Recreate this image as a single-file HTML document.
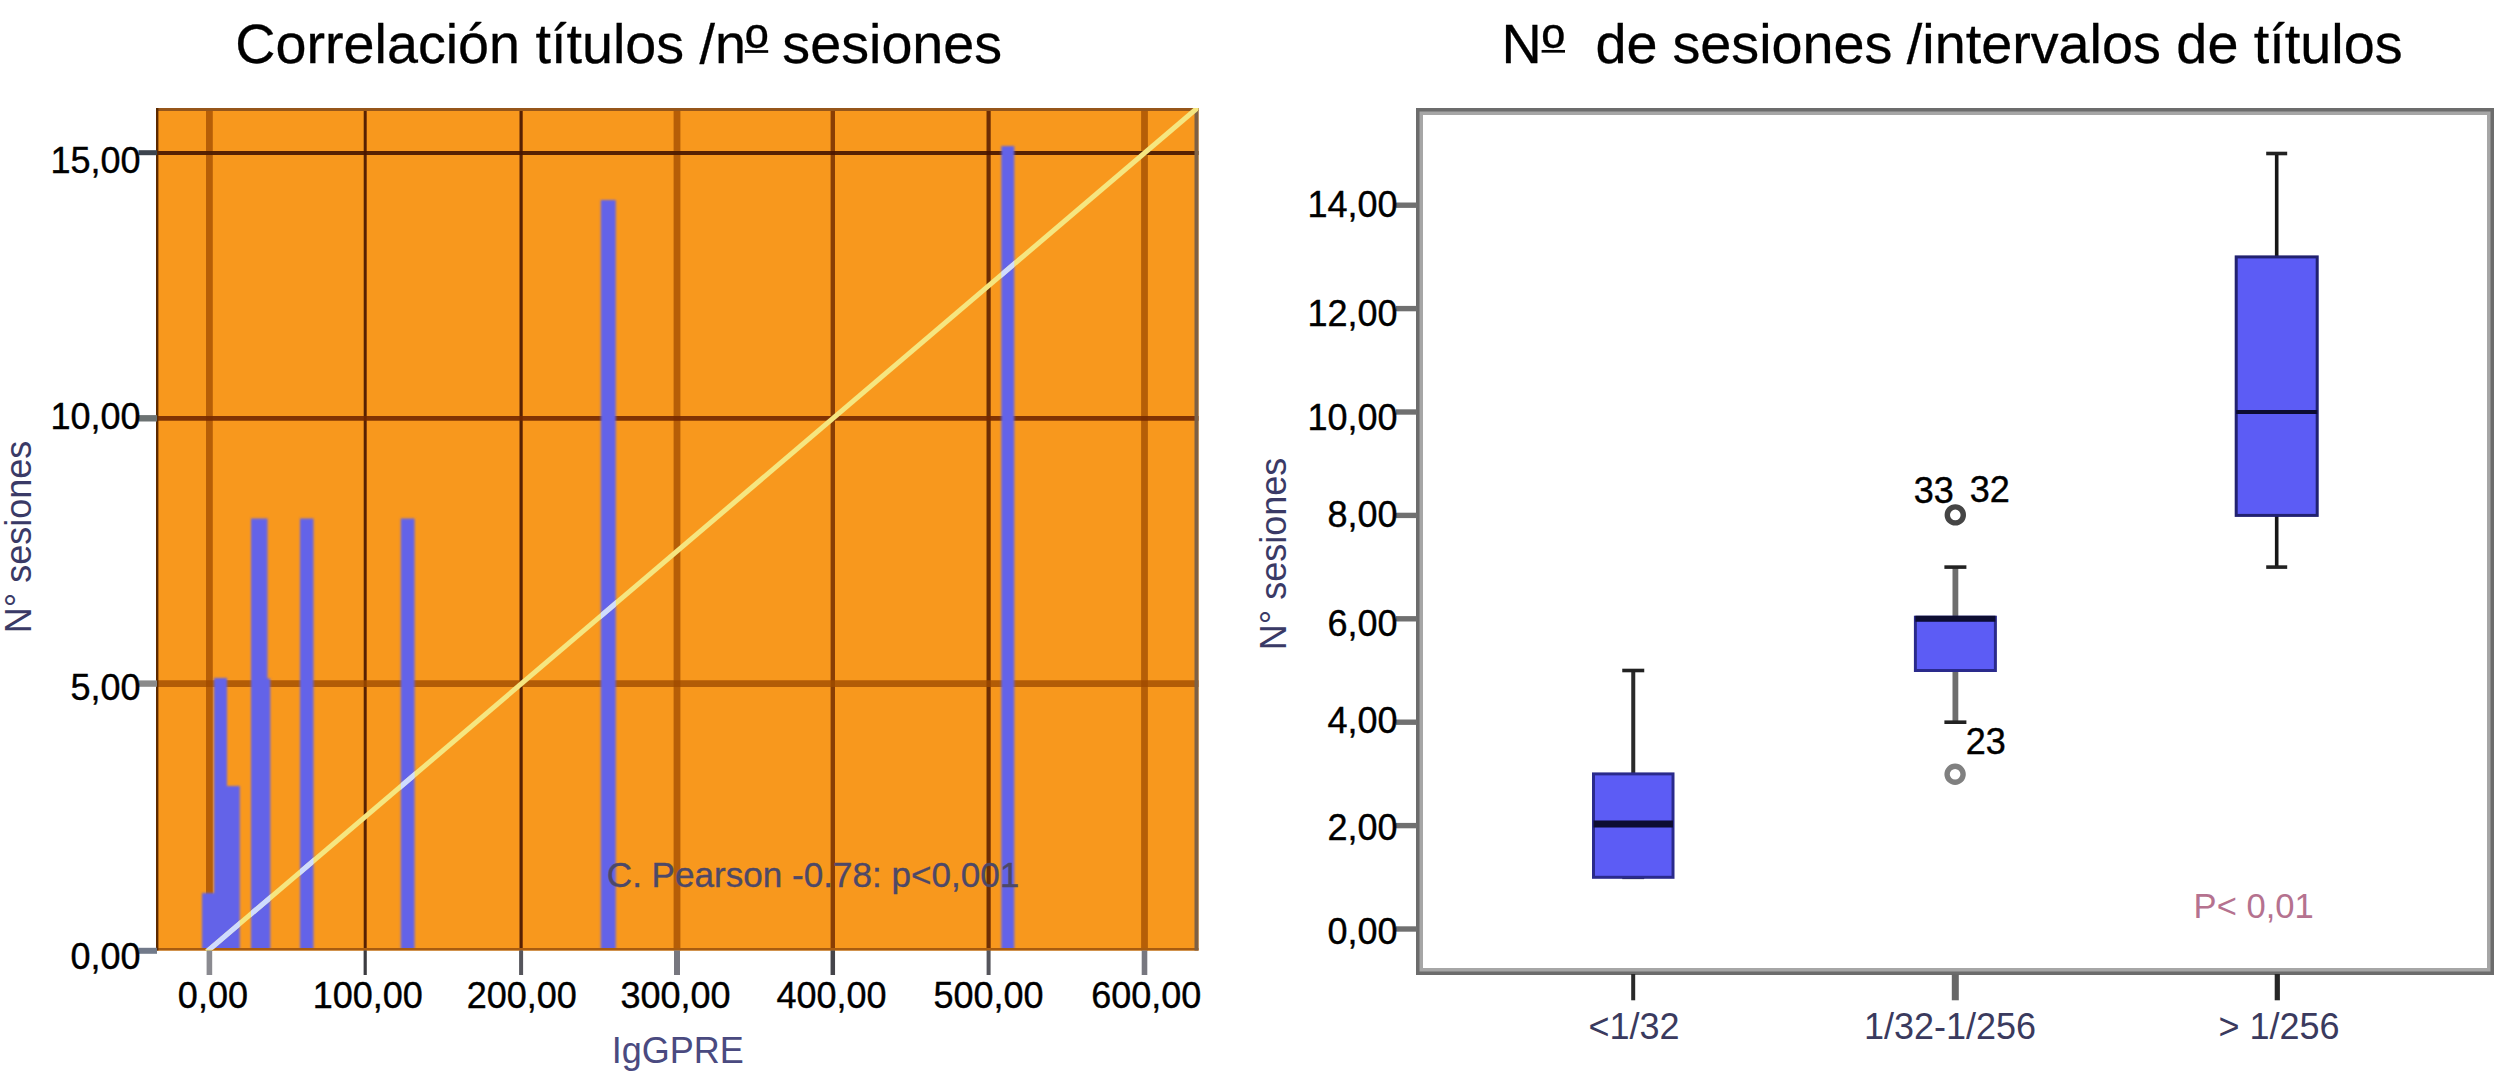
<!DOCTYPE html>
<html lang="es"><head><meta charset="utf-8"><title>Correlación títulos / nº sesiones</title>
<style>
html,body{margin:0;padding:0;background:#fff;}
body{width:2500px;height:1072px;overflow:hidden;font-family:"Liberation Sans",sans-serif;}
svg{display:block;}
</style></head><body>
<svg width="2500" height="1072" viewBox="0 0 2500 1072" font-family="Liberation Sans, sans-serif">
<defs>
<filter id="soft" x="-5%" y="-5%" width="110%" height="110%"><feGaussianBlur stdDeviation="0.9"/></filter>
<filter id="soft2" x="-5%" y="-5%" width="110%" height="110%"><feGaussianBlur stdDeviation="0.6"/></filter>
<clipPath id="barclip">
<rect x="202" y="893" width="13.5" height="56.5"/>
<rect x="214" y="678" width="13.0" height="271.5"/>
<rect x="227" y="786" width="12.8" height="163.5"/>
<rect x="251" y="518.5" width="16.5" height="431.0"/>
<rect x="251.5" y="678.5" width="18.8" height="271.0"/>
<rect x="300" y="518.5" width="13.5" height="431.0"/>
<rect x="400.8" y="518.5" width="13.8" height="431.0"/>
<rect x="600.8" y="200" width="15.0" height="749.5"/>
<rect x="1001.3" y="146" width="13.0" height="803.5"/>
</clipPath>
<clipPath id="plotclip"><rect x="156" y="108" width="1042.5" height="845.5"/></clipPath>
<clipPath id="plotclip2"><rect x="156" y="108" width="1042.5" height="842.0"/></clipPath>
</defs>
<rect width="2500" height="1072" fill="#ffffff"/>
<g id="left-chart">
<rect x="156" y="108" width="1042.5" height="842.5" fill="#f8981d"/>
<g filter="url(#soft2)">
<line x1="209.4" y1="108" x2="209.4" y2="950.5" stroke="#a04c00" stroke-opacity="0.76" stroke-width="6.8"/>
<line x1="365.2" y1="108" x2="365.2" y2="950.5" stroke="#4a1800" stroke-opacity="0.92" stroke-width="3.0"/>
<line x1="521.1" y1="108" x2="521.1" y2="950.5" stroke="#4a1800" stroke-opacity="0.92" stroke-width="3.2"/>
<line x1="677.0" y1="108" x2="677.0" y2="950.5" stroke="#a04c00" stroke-opacity="0.76" stroke-width="6.8"/>
<line x1="832.8" y1="108" x2="832.8" y2="950.5" stroke="#7a3200" stroke-opacity="0.88" stroke-width="4.4"/>
<line x1="988.6" y1="108" x2="988.6" y2="950.5" stroke="#5a2000" stroke-opacity="0.88" stroke-width="4.2"/>
<line x1="1144.5" y1="108" x2="1144.5" y2="950.5" stroke="#a04c00" stroke-opacity="0.76" stroke-width="6.8"/>
<line x1="156" y1="153.0" x2="1198.5" y2="153.0" stroke="#4a1800" stroke-opacity="0.92" stroke-width="4.0"/>
<line x1="156" y1="418.4" x2="1198.5" y2="418.4" stroke="#742800" stroke-opacity="0.9" stroke-width="4.6"/>
<line x1="156" y1="683.7" x2="1198.5" y2="683.7" stroke="#a04c00" stroke-opacity="0.8" stroke-width="6.8"/>
</g>
<g clip-path="url(#plotclip2)"><g fill="#6363e8" filter="url(#soft)">
<rect x="202" y="893" width="13.5" height="61.5"/>
<rect x="214" y="678" width="13.0" height="276.5"/>
<rect x="227" y="786" width="12.8" height="168.5"/>
<rect x="251" y="518.5" width="16.5" height="436.0"/>
<rect x="251.5" y="678.5" width="18.8" height="276.0"/>
<rect x="300" y="518.5" width="13.5" height="436.0"/>
<rect x="400.8" y="518.5" width="13.8" height="436.0"/>
<rect x="600.8" y="200" width="15.0" height="754.5"/>
<rect x="1001.3" y="146" width="13.0" height="808.5"/>
</g></g>
<line x1="156" y1="109.5" x2="1198.5" y2="109.5" stroke="#96561a" stroke-width="3"/>
<line x1="156" y1="949.3" x2="1198.5" y2="949.3" stroke="#a85c10" stroke-width="2.4"/>
<line x1="157.2" y1="108" x2="157.2" y2="950.5" stroke="#5c2a00" stroke-width="2.4"/>
<line x1="1196.5" y1="108" x2="1196.5" y2="950.5" stroke="#7c6046" stroke-width="4"/>
<g clip-path="url(#plotclip)" filter="url(#soft2)">
<line x1="206.9" y1="951.6" x2="1198.5" y2="107.0" stroke="#f5e680" stroke-width="5"/>
<line x1="206.9" y1="951.6" x2="1198.5" y2="107.0" stroke="#cfdcff" stroke-width="5" clip-path="url(#barclip)"/>
</g>
<line x1="209.4" y1="950.5" x2="209.4" y2="975" stroke="#8a8a90" stroke-width="5.6"/>
<line x1="365.2" y1="950.5" x2="365.2" y2="975" stroke="#3c3c40" stroke-width="3.2"/>
<line x1="521.1" y1="950.5" x2="521.1" y2="975" stroke="#55555c" stroke-width="4"/>
<line x1="677.0" y1="950.5" x2="677.0" y2="975" stroke="#77777f" stroke-width="6"/>
<line x1="832.8" y1="950.5" x2="832.8" y2="975" stroke="#44444a" stroke-width="4.5"/>
<line x1="988.6" y1="950.5" x2="988.6" y2="975" stroke="#55555c" stroke-width="4"/>
<line x1="1144.5" y1="950.5" x2="1144.5" y2="975" stroke="#77777f" stroke-width="5.6"/>
<line x1="138.5" y1="152.7" x2="157" y2="152.7" stroke="#3c444e" stroke-width="5"/>
<line x1="138.5" y1="418.3" x2="157" y2="418.3" stroke="#6c7272" stroke-width="6.4"/>
<line x1="138.5" y1="683.6" x2="157" y2="683.6" stroke="#8a8a8a" stroke-width="6.4"/>
<line x1="138.5" y1="950.8" x2="157" y2="950.8" stroke="#727a8a" stroke-width="6"/>
<g font-size="36" fill="#000" stroke="#000" stroke-width="0.4">
<text x="212.9" y="1007.9" text-anchor="middle">0,00</text>
<text x="367.8" y="1007.9" text-anchor="middle">100,00</text>
<text x="521.8" y="1007.9" text-anchor="middle">200,00</text>
<text x="675.6" y="1007.9" text-anchor="middle">300,00</text>
<text x="831.6" y="1007.9" text-anchor="middle">400,00</text>
<text x="988.5" y="1007.9" text-anchor="middle">500,00</text>
<text x="1146.3" y="1007.9" text-anchor="middle">600,00</text>
<text x="140.5" y="969.3" text-anchor="end">0,00</text>
<text x="140.5" y="700.4" text-anchor="end">5,00</text>
<text x="140.5" y="429.4" text-anchor="end">10,00</text>
<text x="140.5" y="172.5" text-anchor="end">15,00</text>
</g>
<text x="677.8" y="1063.3" font-size="36" fill="#4a4a80" text-anchor="middle">IgGPRE</text>
<text transform="translate(31,537) rotate(-90)" font-size="36" fill="#3a3a66" text-anchor="middle">N° sesiones</text>
<text x="606.8" y="886.6" font-size="35.1" fill="#4d4868" stroke="#4d4868" stroke-width="0.35">C. Pearson -0.78: p&lt;0,001</text>
<text x="235.3" y="63" font-size="55.7" fill="#000" stroke="#000" stroke-width="0.3">Correlación títulos /n<tspan font-size="60.4" dy="4.1" dx="-0.2">º</tspan><tspan dy="-4.1" dx="-1"> sesiones</tspan></text>
<line x1="744.9" y1="51.5" x2="768.2" y2="51.5" stroke="#000" stroke-width="2.7"/>
</g>
<g id="right-chart">
<rect x="1419.5" y="111.5" width="1071" height="860" fill="#fff" stroke="#a6a6a6" stroke-width="7"/>
<rect x="1417.75" y="109.75" width="1074.5" height="863.5" fill="none" stroke="#6c6c6c" stroke-width="3.5"/>
<g stroke="#707070" stroke-width="5.4">
<line x1="1396" y1="929.0" x2="1417" y2="929.0"/>
<line x1="1396" y1="825.6" x2="1417" y2="825.6"/>
<line x1="1396" y1="722.2" x2="1417" y2="722.2"/>
<line x1="1396" y1="618.8" x2="1417" y2="618.8"/>
<line x1="1396" y1="515.4" x2="1417" y2="515.4"/>
<line x1="1396" y1="412.0" x2="1417" y2="412.0"/>
<line x1="1396" y1="308.6" x2="1417" y2="308.6"/>
<line x1="1396" y1="205.2" x2="1417" y2="205.2"/>
</g>
<line x1="1633.2" y1="974" x2="1633.2" y2="1000.3" stroke="#2a2a2a" stroke-width="4"/>
<line x1="1955.3" y1="974" x2="1955.3" y2="1000.3" stroke="#686868" stroke-width="7"/>
<line x1="2277.3" y1="974" x2="2277.3" y2="1000.3" stroke="#262626" stroke-width="5.2"/>
<g font-size="36" fill="#000" stroke="#000" stroke-width="0.4">
<text x="1397.5" y="944.4" text-anchor="end">0,00</text>
<text x="1397.5" y="840.0" text-anchor="end">2,00</text>
<text x="1397.5" y="733.2" text-anchor="end">4,00</text>
<text x="1397.5" y="635.8" text-anchor="end">6,00</text>
<text x="1397.5" y="527.4" text-anchor="end">8,00</text>
<text x="1397.5" y="429.8" text-anchor="end">10,00</text>
<text x="1397.5" y="325.9" text-anchor="end">12,00</text>
<text x="1397.5" y="217.4" text-anchor="end">14,00</text>
</g>
<g filter="url(#soft2)">
<line x1="1633.25" y1="670.5" x2="1633.25" y2="877.3" stroke="#2a2a2a" stroke-width="4"/>
<line x1="1622.25" y1="670.5" x2="1644.25" y2="670.5" stroke="#222" stroke-width="3.6"/>
<line x1="1622.25" y1="877.3" x2="1644.25" y2="877.3" stroke="#222" stroke-width="3.6"/>
<rect x="1593.5" y="773.9" width="79.5" height="103.4" fill="#5c5cf5" stroke="#2c2c8c" stroke-width="3"/>
<line x1="1593.5" y1="824.0" x2="1673.0" y2="824.0" stroke="#0a0a30" stroke-width="7"/>
<line x1="1955.4" y1="567.1" x2="1955.4" y2="722.2" stroke="#6e6e6e" stroke-width="5.8"/>
<line x1="1944.4" y1="567.1" x2="1966.4" y2="567.1" stroke="#222" stroke-width="3.6"/>
<line x1="1944.4" y1="722.2" x2="1966.4" y2="722.2" stroke="#222" stroke-width="3.6"/>
<rect x="1915.4" y="617.2" width="80.0" height="53.3" fill="#5c5cf5" stroke="#2c2c8c" stroke-width="3"/>
<line x1="1915.4" y1="618.8" x2="1995.4" y2="618.8" stroke="#0a0a30" stroke-width="6"/>
<line x1="2276.7" y1="153.5" x2="2276.7" y2="567.1" stroke="#151515" stroke-width="3.6"/>
<line x1="2266.2" y1="153.5" x2="2287.2" y2="153.5" stroke="#222" stroke-width="3.6"/>
<line x1="2266.2" y1="567.1" x2="2287.2" y2="567.1" stroke="#222" stroke-width="3.6"/>
<rect x="2236.2" y="256.9" width="81.0" height="258.5" fill="#5c5cf5" stroke="#202070" stroke-width="3"/>
<line x1="2236.2" y1="412.0" x2="2317.2" y2="412.0" stroke="#0a0a30" stroke-width="4"/>
<circle cx="1955.3" cy="514.9" r="8" fill="#fff" stroke="#444" stroke-width="5.4"/>
<circle cx="1955.1" cy="774.2" r="8" fill="#fff" stroke="#808080" stroke-width="5.4"/>
</g>
<g font-size="36" fill="#000" stroke="#000" stroke-width="0.4">
<text x="1913.8" y="503.2">33</text>
<text x="1969.8" y="502">32</text>
<text x="1965.7" y="753.8">23</text>
</g>
<g font-size="36" fill="#3a3a5e" text-anchor="middle">
<text x="1634" y="1039">&lt;1/32</text>
<text x="1950" y="1039">1/32-1/256</text>
<text x="2279" y="1039">&gt; 1/256</text>
</g>
<text x="2193.6" y="917.8" font-size="34.6" fill="#b5728f">P&lt; 0,01</text>
<text transform="translate(1286,554) rotate(-90)" font-size="36" fill="#3a3a66" text-anchor="middle">N° sesiones</text>
<text y="63" font-size="55.75" fill="#000" stroke="#000" stroke-width="0.3" xml:space="preserve"><tspan x="1501.5">N</tspan><tspan font-size="60.4" dy="4.1" dx="0.5">º</tspan><tspan dy="-4.1">  </tspan><tspan x="1595.4">de </tspan><tspan x="1672.4">sesiones </tspan><tspan x="1906.8">/intervalos de títulos</tspan></text>
<line x1="1541.6" y1="51.3" x2="1565" y2="51.3" stroke="#000" stroke-width="2.7"/>
</g>
</svg>
</body></html>
